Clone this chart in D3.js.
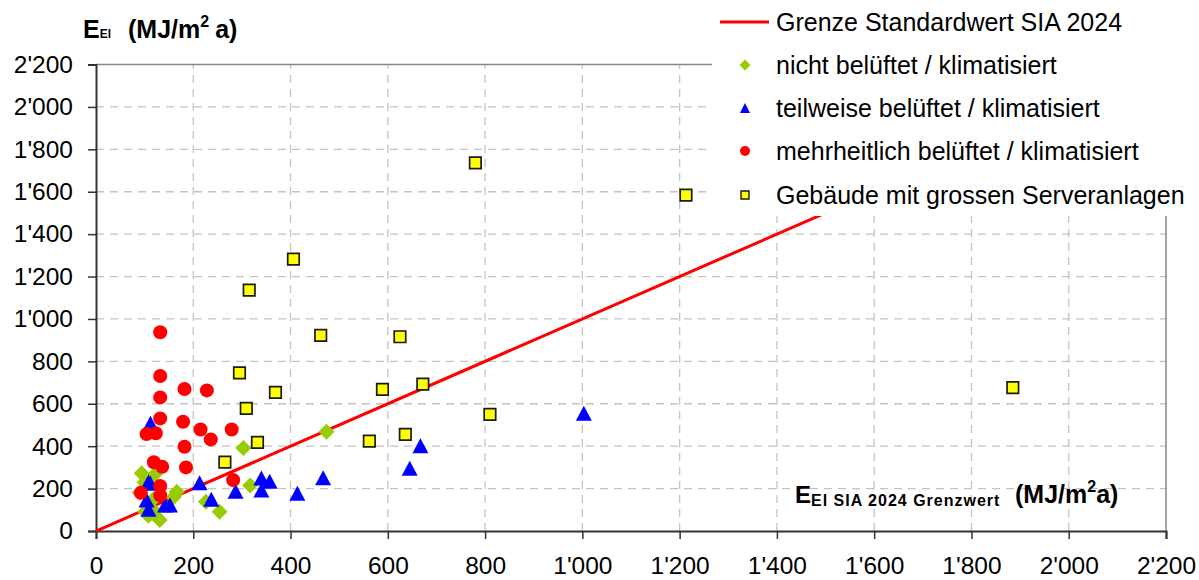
<!DOCTYPE html>
<html>
<head>
<meta charset="utf-8">
<script src="https://cdn.jsdelivr.net/npm/d3@7"></script>
<style>
  html, body { margin: 0; padding: 0; background: #fff; }
  svg { display: block; font-family: Arial, "Liberation Sans", sans-serif; }
</style>
</head>
<body>
<svg id="chart" width="1199" height="580"></svg>
<script>
// Electricity demand E_El vs. SIA 2024 limit value (MJ/m²a)
const xTicks = [0, 200, 400, 600, 800, 1000, 1200, 1400, 1600, 1800, 2000, 2200];
const yTicks = [0, 200, 400, 600, 800, 1000, 1200, 1400, 1600, 1800, 2000, 2200];

// limit line: E_El = E_El SIA 2024
const limitLine = [[0, 0], [2200, 2200]];

const nichtBelueftet = [
  [94, 272], [121, 268], [90, 180], [100, 230], [101, 91], [121, 91], [131, 52],
  [108, 72], [118, 150], [160, 160], [166, 185], [226, 138], [254, 91],
  [303, 392], [317, 215], [474, 468]
];
const teilweiseBelueftet = [
  [112, 508], [108, 232], [112, 225], [104, 146], [108, 102], [142, 123], [152, 123],
  [213, 228], [237, 150], [287, 188], [340, 250], [357, 235], [340, 193],
  [414, 178], [467, 251], [645, 296], [667, 402], [1003, 555]
];
const mehrheitlichBelueftet = [
  [132, 937], [132, 731], [132, 630], [132, 531], [182, 670], [228, 663], [179, 515],
  [104, 457], [123, 461], [215, 479], [236, 432], [279, 479], [182, 397], [185, 300],
  [119, 324], [136, 303], [132, 212], [92, 180], [132, 168], [282, 240]
];
const serverGebaeude = [
  [780, 1736], [1213, 1584], [1885, 676], [406, 1282], [315, 1136], [462, 923],
  [625, 916], [295, 746], [369, 654], [589, 668], [672, 693], [309, 578],
  [332, 418], [265, 325], [562, 424], [636, 456], [810, 550]
];

const legendLabels = [
  "Grenze Standardwert SIA 2024",
  "nicht belüftet / klimatisiert",
  "teilweise belüftet / klimatisiert",
  "mehrheitlich belüftet / klimatisiert",
  "Gebäude mit grossen Serveranlagen"
];

const svg = d3.select("#chart");
const x = d3.scaleLinear().domain([0, 2200]).range([96, 1166]);
const y = d3.scaleLinear().domain([0, 2200]).range([531, 64.5]);

const fmt = d3.formatLocale({ decimal: ".", thousands: "'", grouping: [3], currency: ["", ""] }).format(",d");

// grid
const grid = svg.append("g");
grid.selectAll("line.gy").data(yTicks.filter(d => d > 0 && d < 2200)).join("line")
  .attr("x1", x(0)).attr("x2", x(2200))
  .attr("y1", d => y(d)).attr("y2", d => y(d))
  .attr("stroke", "#c4c4c4").attr("stroke-width", 1.3).attr("stroke-dasharray", "8,6");
grid.selectAll("line.gx").data(xTicks.filter(d => d > 0 && d < 2200)).join("line")
  .attr("y1", y(0)).attr("y2", y(2200))
  .attr("x1", d => x(d)).attr("x2", d => x(d))
  .attr("stroke", "#c4c4c4").attr("stroke-width", 1.3).attr("stroke-dasharray", "8,6");

// plot frame (top and right)
svg.append("line").attr("x1", x(0)).attr("x2", x(2200)).attr("y1", y(2200)).attr("y2", y(2200))
  .attr("stroke", "#888").attr("stroke-width", 1.5);
svg.append("line").attr("x1", x(2200)).attr("x2", x(2200)).attr("y1", y(2200)).attr("y2", y(0))
  .attr("stroke", "#888").attr("stroke-width", 1.5);

// axes
const xAxis = d3.axisBottom(x).tickValues(xTicks).tickFormat(fmt).tickSize(8).tickPadding(18);
const yAxis = d3.axisLeft(y).tickValues(yTicks).tickFormat(fmt).tickSize(8).tickPadding(15);
const gx = svg.append("g").attr("transform", `translate(0,${y(0)})`).call(xAxis);
const gy = svg.append("g").attr("transform", `translate(${x(0)},0)`).call(yAxis);
[gx, gy].forEach(g => {
  g.select(".domain").attr("stroke", "#333").attr("stroke-width", 2);
  g.selectAll(".tick line").attr("stroke", "#333").attr("stroke-width", 1.5);
  g.selectAll(".tick text").attr("fill", "#000").style("font-size", "24.5px")
    .style("font-family", "Arial, 'Liberation Sans', sans-serif");
});

// limit line
svg.append("path")
  .attr("d", d3.line().x(d => x(d[0])).y(d => y(d[1]))(limitLine))
  .attr("stroke", "#ff0000").attr("stroke-width", 3).attr("fill", "none");

// marker shapes
const diamond = r => `M0,${-r}L${r},0L0,${r}L${-r},0Z`;
const triangle = (w, h) => `M0,${-h / 2}L${w / 2},${h / 2}L${-w / 2},${h / 2}Z`;
const square = s => `M${-s / 2},${-s / 2}h${s}v${s}h${-s}Z`;

const marks = svg.append("g");
marks.selectAll("path.g").data(nichtBelueftet).join("path")
  .attr("d", diamond(8)).attr("fill", "#99cc00")
  .attr("transform", d => `translate(${x(d[0])},${y(d[1])})`);
marks.selectAll("path.b").data(teilweiseBelueftet).join("path")
  .attr("d", triangle(16, 15)).attr("fill", "#0000ff")
  .attr("transform", d => `translate(${x(d[0])},${y(d[1])})`);
marks.selectAll("circle.r").data(mehrheitlichBelueftet).join("circle")
  .attr("r", 7).attr("fill", "#ff0000")
  .attr("cx", d => x(d[0])).attr("cy", d => y(d[1]));
marks.selectAll("path.s").data(serverGebaeude).join("path")
  .attr("d", square(11.5)).attr("fill", "#ffff00").attr("stroke", "#1a1a1a").attr("stroke-width", 1.7)
  .attr("transform", d => `translate(${x(d[0])},${y(d[1])})`);

// legend
const lg = svg.append("g");
lg.append("rect").attr("x", 712).attr("y", 0).attr("width", 487).attr("height", 216).attr("fill", "#fff");
const rowY = [22, 65, 108, 151, 195];
const mx = 745;
lg.append("line").attr("x1", 720).attr("x2", 769).attr("y1", rowY[0]).attr("y2", rowY[0])
  .attr("stroke", "#ff0000").attr("stroke-width", 3);
lg.append("path").attr("d", diamond(5.5)).attr("fill", "#99cc00").attr("transform", `translate(${mx},${rowY[1]})`);
lg.append("path").attr("d", triangle(10, 10)).attr("fill", "#0000ff").attr("transform", `translate(${mx},${rowY[2]})`);
lg.append("circle").attr("r", 5).attr("fill", "#ff0000").attr("cx", mx).attr("cy", rowY[3]);
lg.append("path").attr("d", square(8)).attr("fill", "#ffff00").attr("stroke", "#1a1a1a").attr("stroke-width", 1.4)
  .attr("transform", `translate(${mx},${rowY[4]})`);
lg.selectAll("text").data(legendLabels).join("text")
  .attr("x", 776).attr("y", (d, i) => rowY[i] + 9)
  .style("font-size", "25px").attr("fill", "#000").text(d => d);

// y-axis title
const yt = svg.append("text").attr("x", 83).attr("y", 38).attr("font-weight", "bold").attr("fill", "#000");
yt.append("tspan").style("font-size", "25px").text("E");
yt.append("tspan").style("font-size", "12px").text("El");
yt.append("tspan").style("font-size", "25px").attr("x", 128).text("(MJ/m");
yt.append("tspan").style("font-size", "16px").attr("dy", -11).text("2");
yt.append("tspan").style("font-size", "25px").attr("dy", 11).attr("dx", 6).text("a)");

// x-axis title
const xt = svg.append("text").attr("x", 795).attr("y", 503).attr("font-weight", "bold").attr("fill", "#000");
xt.append("tspan").style("font-size", "24px").text("E");
xt.append("tspan").style("font-size", "16px").attr("dy", 3).style("letter-spacing", "1px").text("El SIA 2024 Grenzwert");
xt.append("tspan").style("font-size", "25px").attr("dy", -3).attr("x", 1015).style("letter-spacing", "0px").text("(MJ/m");
xt.append("tspan").style("font-size", "16px").attr("dy", -11).text("2");
xt.append("tspan").style("font-size", "25px").attr("dy", 11).text("a)");
</script>
</body>
</html>
